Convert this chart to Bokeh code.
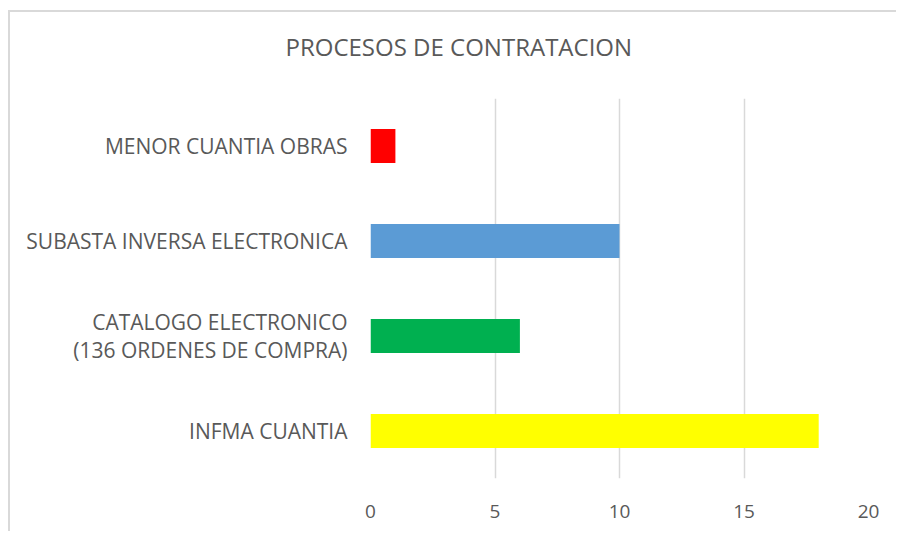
from bokeh.plotting import figure
from bokeh.models import Range1d, FactorRange, Title, ColumnDataSource
from bokeh.embed import file_html
from bokeh.resources import INLINE

categories = ["INFMA CUANTIA",
              "CATALOGO ELECTRONICO\n(136 ORDENES DE COMPRA)",
              "SUBASTA INVERSA ELECTRONICA",
              "MENOR CUANTIA OBRAS"]
values = [18, 6, 10, 1]
colors = ["#FFFF00", "#00B050", "#5B9BD5", "#FF0000"]
x_ticks = [0, 5, 10, 15, 20]
title_text = "PROCESOS DE CONTRATACION"

FONT = "Open Sans"
TXT = "#595959"

p = figure(width=888, height=521, output_backend="svg", toolbar_location=None,
           y_range=FactorRange(factors=categories), x_range=Range1d(0, 20),
           min_border_left=360, min_border_right=30, min_border_top=86, min_border_bottom=55,
           outline_line_color=None)

src = ColumnDataSource(dict(cat=categories, val=values, col=colors))
p.hbar(y="cat", right="val", left=0, height=0.36, color="col", source=src, line_color=None)

title = Title(text=title_text, align="left", offset=-85, standoff=28,
              padding=dict(left=0, right=0, top=0, bottom=22),
              text_font=FONT, text_font_size="24px", text_font_style="normal",
              text_color=TXT)
p.add_layout(title, "above")

p.xaxis.ticker = x_ticks
p.xaxis.axis_line_color = None
p.xaxis.major_tick_line_color = None
p.xaxis.minor_tick_line_color = None
p.xaxis.major_label_text_font = FONT
p.xaxis.major_label_text_font_size = "19px"
p.xaxis.major_label_text_color = TXT
p.xaxis.major_label_standoff = 20

p.yaxis.axis_line_color = None
p.yaxis.major_tick_line_color = None
p.yaxis.major_label_text_font = FONT
p.yaxis.major_label_text_font_size = "21px"
p.yaxis.major_label_text_color = TXT
p.yaxis.major_label_text_line_height = 1.0
p.yaxis.major_label_standoff = 17

p.xgrid.grid_line_color = "#D9D9D9"
p.xgrid.grid_line_width = 1.5
p.ygrid.grid_line_color = None

p.styles = {"border-top": "2px solid #D9D9D9", "border-left": "2px solid #D9D9D9",
            "margin-top": "10px", "margin-left": "8px"}

open("out.html", "w").write(file_html(p, INLINE))
